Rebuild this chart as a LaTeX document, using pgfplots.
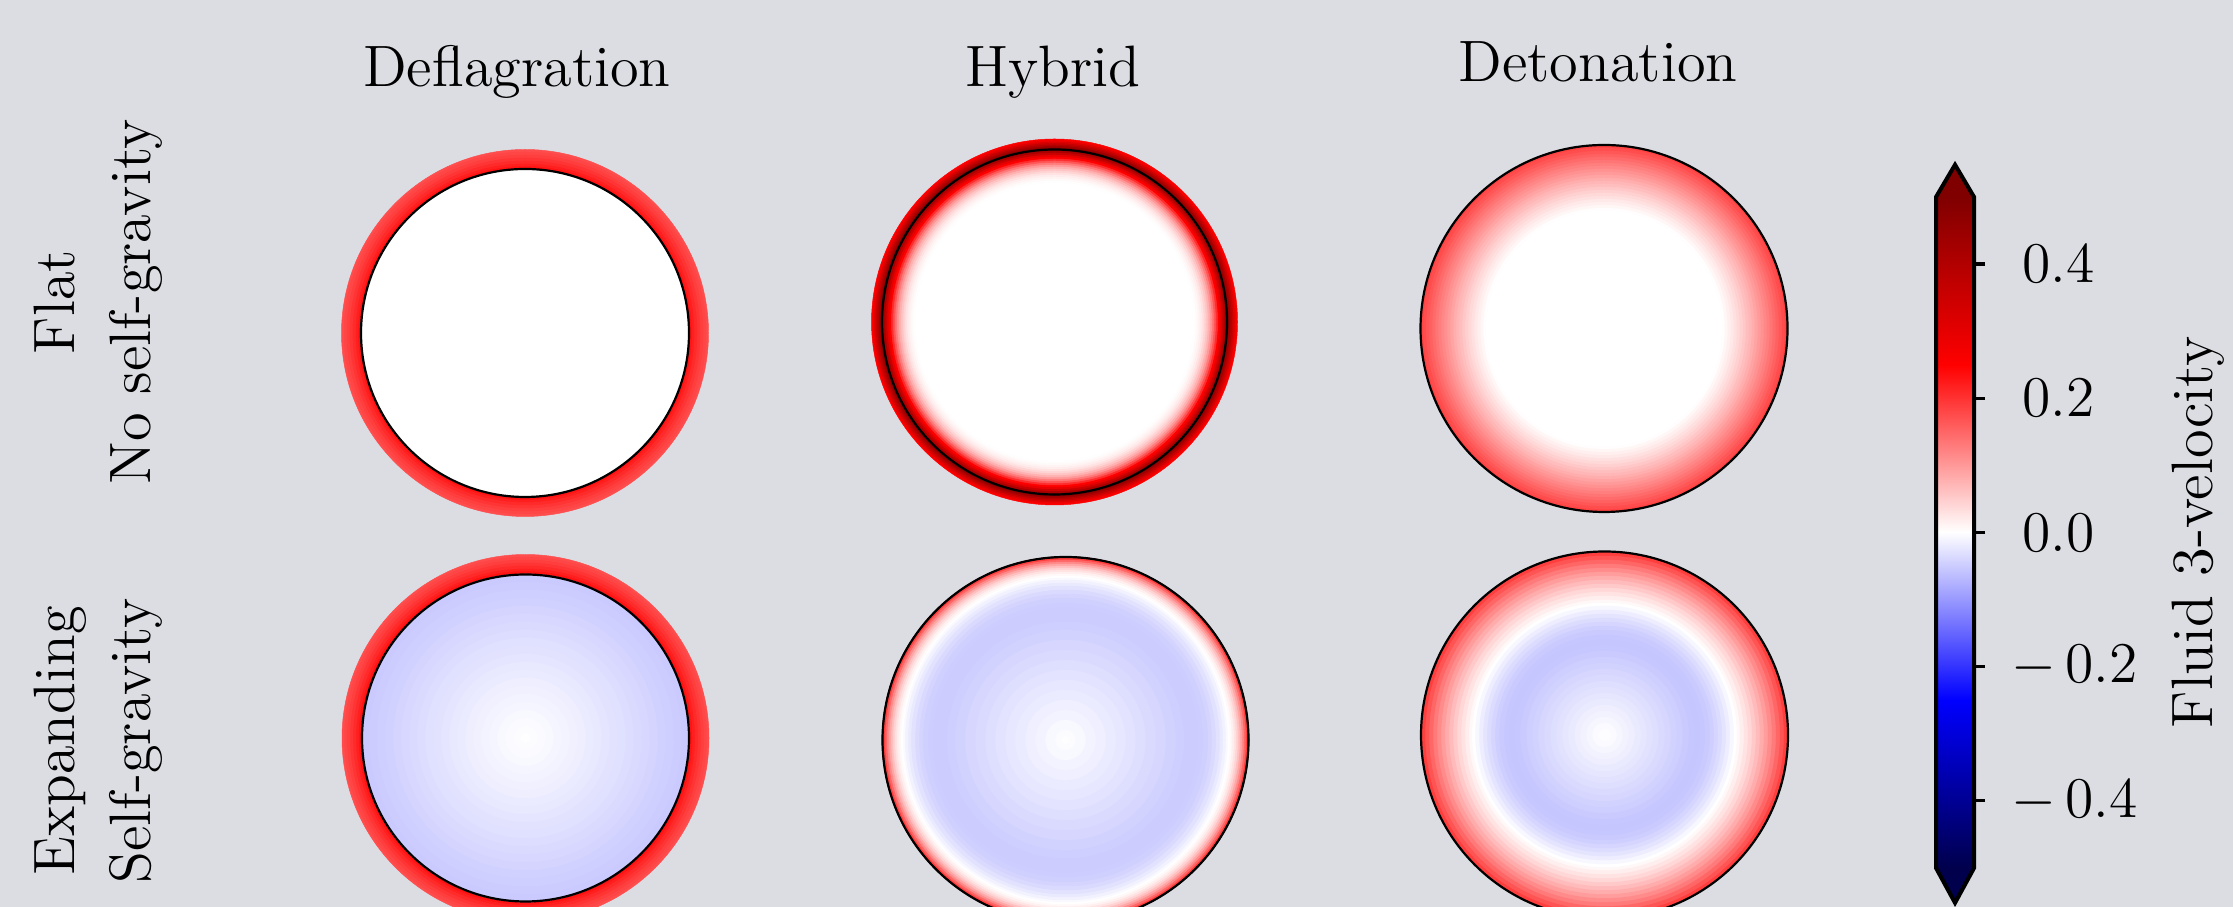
\documentclass[border=0pt]{standalone}
\usepackage{pgfplots}
\usepackage{pgfplotstable}
\pgfplotsset{compat=1.18}

% page background and the two colour-bar extensions
\definecolor{figbg}{RGB}{220,221,227}
\definecolor{overcol}{rgb}{0.5,0,0}
\definecolor{undercol}{rgb}{0,0,0.3}

% diverging blue--white--red map
\pgfplotsset{
  colormap={seismic}{rgb=(0,0,0.3) rgb=(0,0,1) rgb=(1,1,1) rgb=(1,0,0) rgb=(0.5,0,0)},
}

% drawing unit: 1 px = 0.25pt
\newcommand{\labfont}{\fontsize{14.6}{17.5}\selectfont}

\pgfplotsset{
  % a radially symmetric profile, drawn as nested filled rings (outermost first)
  disk/.style={
    scatter, only marks, mark=*,
    point meta=\thisrow{v},
    scatter/use mapped color={draw=mapped color, fill=mapped color},
    visualization depends on={0.25*\thisrow{r} \as \ringrad},
    scatter/@pre marker code/.append style={/tikz/mark size=\ringrad},
    line width=0.12pt,
  },
  % bubble wall
  wall/.style={only marks, mark=o, mark size=#1,
    mark options={draw=black, line width=0.55pt}},
}

% columns: x y (centre, px)  r (px)  v (fluid 3-velocity)
\pgfplotstableread{
x y r v
525 574 183.5 0.175
525 574 181 0.182
525 574 178 0.190
525 574 175 0.199
525 574 172 0.209
525 574 169 0.220
525 574 166.5 0.232
525 574 164.5 0.243
525 574 164 0.0
}\flatdefl

\pgfplotstableread{
x y r v
1054.5 585 183 0.25
1054.5 585 181.5 0.28
1054.5 585 180 0.32
1054.5 585 178.5 0.36
1054.5 585 177 0.40
1054.5 585 175.5 0.44
1054.5 585 174 0.48
1054.5 585 172.5 0.47
1054.5 585 171 0.42
1054.5 585 169 0.36
1054.5 585 167 0.30
1054.5 585 165 0.25
1054.5 585 163 0.205
1054.5 585 161 0.165
1054.5 585 159 0.13
1054.5 585 157 0.10
1054.5 585 155 0.077
1054.5 585 153 0.058
1054.5 585 151 0.042
1054.5 585 149 0.029
1054.5 585 147 0.019
1054.5 585 145 0.011
1054.5 585 143 0.005
1054.5 585 141 0.0015
1054.5 585 139 0.0
}\flathyb

\pgfplotstableread{
x y r v
1604 578.5 183.5 0.185
1604 578.5 180.5 0.1751
1604 578.5 177.5 0.1654
1604 578.5 174.5 0.1557
1604 578.5 171.5 0.1460
1604 578.5 168.5 0.1365
1604 578.5 165.5 0.1270
1604 578.5 162.5 0.1176
1604 578.5 159.5 0.1083
1604 578.5 156.5 0.0992
1604 578.5 153.5 0.0901
1604 578.5 150.5 0.0811
1604 578.5 147.5 0.0723
1604 578.5 144.5 0.0636
1604 578.5 141.5 0.0551
1604 578.5 138.5 0.0467
1604 578.5 135.5 0.0386
1604 578.5 132.5 0.0306
1604 578.5 129.5 0.0229
1604 578.5 126.5 0.0156
1604 578.5 123.5 0.0087
1604 578.5 120.5 0.0025
1604 578.5 118 0.0
}\flatdet

\pgfplotstableread{
x y r v
525.5 169 183.5 0.175
525.5 169 181 0.182
525.5 169 178 0.190
525.5 169 175 0.199
525.5 169 172 0.209
525.5 169 169 0.220
525.5 169 166.5 0.232
525.5 169 164.5 0.243
525.5 169 164 -0.052
525.5 169 156 -0.0495
525.5 169 148 -0.0470
525.5 169 140 -0.0444
525.5 169 132 -0.0418
525.5 169 124 -0.0390
525.5 169 116 -0.0362
525.5 169 108 -0.0334
525.5 169 100 -0.0306
525.5 169 92 -0.0278
525.5 169 84 -0.0250
525.5 169 76 -0.0222
525.5 169 68 -0.0195
525.5 169 60 -0.0168
525.5 169 52 -0.0142
525.5 169 44 -0.0116
525.5 169 36 -0.0091
525.5 169 28 -0.0067
525.5 169 20 -0.0045
525.5 169 12 -0.0024
525.5 169 5 -0.0008
}\expdefl

\pgfplotstableread{
x y r v
1065.5 167 183.5 0.45
1065.5 167 182 0.19
1065.5 167 180 0.15
1065.5 167 178 0.115
1065.5 167 176 0.087
1065.5 167 174 0.063
1065.5 167 172 0.043
1065.5 167 170 0.028
1065.5 167 168 0.015
1065.5 167 166 0.006
1065.5 167 164 0.0
1065.5 167 162 -0.006
1065.5 167 160 -0.012
1065.5 167 157 -0.020
1065.5 167 154 -0.028
1065.5 167 150 -0.036
1065.5 167 146 -0.042
1065.5 167 142 -0.046
1065.5 167 137 -0.049
1065.5 167 132 -0.050
1065.5 167 126 -0.0495
1065.5 167 118 -0.047
1065.5 167 110 -0.044
1065.5 167 100 -0.040
1065.5 167 90 -0.036
1065.5 167 80 -0.032
1065.5 167 70 -0.027
1065.5 167 60 -0.023
1065.5 167 50 -0.019
1065.5 167 40 -0.015
1065.5 167 30 -0.011
1065.5 167 20 -0.007
1065.5 167 10 -0.003
1065.5 167 4 -0.001
}\exphyb

\pgfplotstableread{
x y r v
1604.5 172 183.5 0.190
1604.5 172 179 0.168
1604.5 172 175 0.149
1604.5 172 171 0.131
1604.5 172 167 0.114
1604.5 172 163 0.097
1604.5 172 159 0.082
1604.5 172 155 0.067
1604.5 172 151 0.053
1604.5 172 147 0.040
1604.5 172 143 0.028
1604.5 172 139 0.017
1604.5 172 135 0.007
1604.5 172 132 0.0
1604.5 172 129 -0.008
1604.5 172 125 -0.017
1604.5 172 121 -0.026
1604.5 172 117 -0.034
1604.5 172 113 -0.041
1604.5 172 109 -0.047
1604.5 172 105 -0.052
1604.5 172 100 -0.055
1604.5 172 95 -0.056
1604.5 172 90 -0.055
1604.5 172 84 -0.052
1604.5 172 78 -0.048
1604.5 172 72 -0.044
1604.5 172 66 -0.040
1604.5 172 60 -0.036
1604.5 172 54 -0.032
1604.5 172 48 -0.028
1604.5 172 42 -0.024
1604.5 172 36 -0.020
1604.5 172 30 -0.016
1604.5 172 24 -0.012
1604.5 172 18 -0.009
1604.5 172 12 -0.005
1604.5 172 6 -0.002
}\expdet

\begin{document}
\begin{tikzpicture}
\begin{axis}[
  name=main, at={(0,0)}, anchor=south west,
  scale only axis, width=558.25pt, height=226.75pt,
  xmin=0, xmax=2233, ymin=0, ymax=907,
  axis background/.style={fill=figbg},
  axis line style={draw=none},
  xtick=\empty, ytick=\empty,
  clip marker paths=true,
  point meta min=-0.5, point meta max=0.5,
]
  \addplot[disk] table {\flatdefl};
  \addplot[disk] table {\flathyb};
  \addplot[disk] table {\flatdet};
  \addplot[disk] table {\expdefl};
  \addplot[disk] table {\exphyb};
  \addplot[disk] table {\expdet};

  \addplot[wall=41]     coordinates {(525,574)};
  \addplot[wall=43.125] coordinates {(1054.5,585)};
  \addplot[wall=45.875] coordinates {(1604,578.5)};
  \addplot[wall=40.875] coordinates {(525.5,169)};
  \addplot[wall=45.75]  coordinates {(1065.5,167)};
  \addplot[wall=45.875] coordinates {(1604.5,172)};

  % column titles
  \node[anchor=base, font=\labfont] at (axis cs:517,820) {Deflagration};
  \node[anchor=base, font=\labfont] at (axis cs:1053,820) {Hybrid};
  \node[anchor=base, font=\labfont] at (axis cs:1598,825) {Detonation};

  % row labels
  \node[rotate=90, anchor=base, font=\labfont] at (axis cs:74,605) {Flat};
  \node[rotate=90, anchor=base, font=\labfont] at (axis cs:150,605) {No self-gravity};
  \node[rotate=90, anchor=base, font=\labfont] at (axis cs:74,166) {Expanding};
  \node[rotate=90, anchor=base, font=\labfont] at (axis cs:150,166) {Self-gravity};
\end{axis}

% colour bar
\begin{axis}[
  at={(484pt,9.75pt)}, anchor=south west,
  scale only axis, width=9.5pt, height=167.75pt,
  xmin=0, xmax=1, ymin=-0.5, ymax=0.5,
  point meta min=-0.5, point meta max=0.5,
  clip=false,
  axis line style={draw=none},
  xtick=\empty,
  ytick={-0.4,-0.2,0,0.2,0.4},
  yticklabels={$-\,0.4$,$-\,0.2$,\hspace{2.75pt}$0.0$,\hspace{2.75pt}$0.2$,\hspace{2.75pt}$0.4$},
  ytick pos=right, yticklabel pos=right,
  tick align=outside, major tick length=2.75pt,
  every tick/.style={black, line width=0.8pt},
  tick label style={font=\labfont},
  yticklabel style={xshift=3pt},
  ylabel={Fluid 3-velocity},
  label style={font=\labfont},
  ylabel style={at={(axis description cs:6.9,0.5)}, anchor=center},
]
  \addplot[patch, shader=interp, point meta=y] coordinates {
    (0,-0.5) (1,-0.5) (1,-0.25)   (0,-0.5) (1,-0.25) (0,-0.25)
    (0,-0.25) (1,-0.25) (1,0)     (0,-0.25) (1,0) (0,0)
    (0,0) (1,0) (1,0.25)          (0,0) (1,0.25) (0,0.25)
    (0,0.25) (1,0.25) (1,0.5)     (0,0.25) (1,0.5) (0,0.5)
  };
  \addplot[fill=overcol, draw=none] coordinates {(0,0.5) (1,0.5) (0.5,0.548)} -- cycle;
  \addplot[fill=undercol, draw=none] coordinates {(0,-0.5) (1,-0.5) (0.5,-0.552)} -- cycle;
  \addplot[black, line width=1pt, line join=miter] coordinates {
    (0,0.5) (0.5,0.548) (1,0.5) (1,-0.5) (0.5,-0.552) (0,-0.5)} -- cycle;
\end{axis}

\pgfresetboundingbox
\path[use as bounding box] (0,0) rectangle (558.25pt,226.75pt);
\end{tikzpicture}
\end{document}
